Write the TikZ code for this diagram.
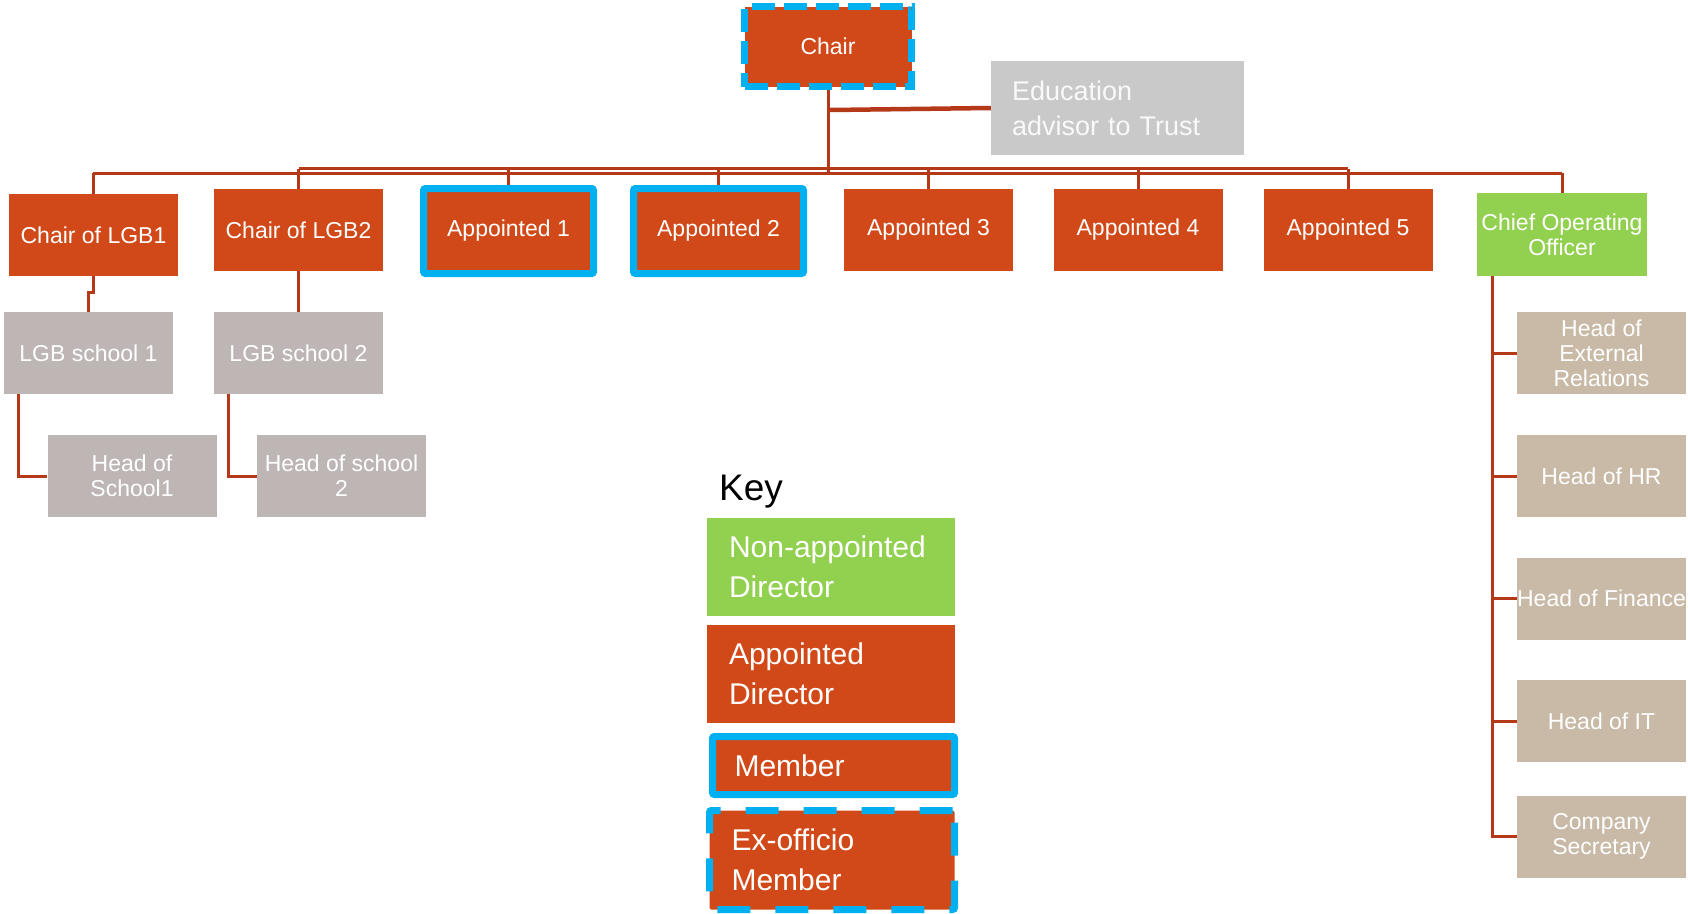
\documentclass[tikz,border=0pt]{standalone}
\usepackage{fontspec}
\setmainfont{Liberation Sans}
\usetikzlibrary{backgrounds}
\definecolor{orng}{RGB}{209,73,25}
\definecolor{cyanb}{RGB}{0,176,240}
\definecolor{grn}{RGB}{146,208,80}
\definecolor{lgbgray}{RGB}{190,181,181}
\definecolor{edugray}{RGB}{201,201,201}
\definecolor{tanbox}{RGB}{200,186,166}
\definecolor{conncol}{RGB}{181,57,24}
\tikzset{
  box/.style={rectangle, inner sep=0pt, align=center, text=white,
    font=\fontsize{23}{25}\selectfont},
  orangebox/.style={box, fill=orng, minimum width=169pt, minimum height=82pt},
  memberbox/.style={box, fill=orng, draw=cyanb, line width=7pt, rounded corners=2pt},
  exbox/.style={box, fill=orng, draw=cyanb, line width=7pt, dash pattern=on 23pt off 9pt},
  greenbox/.style={box, fill=grn, minimum width=170pt, minimum height=83pt},
  graybox/.style={box, fill=lgbgray, minimum width=169pt, minimum height=82pt},
  tbox/.style={box, fill=tanbox, minimum width=169pt, minimum height=82pt},
  keytext/.style={font=\fontsize{30}{40}\selectfont, align=left},
  conn/.style={draw=conncol, line width=3pt},
}
\begin{document}
\begin{tikzpicture}[x=1pt,y=-1pt]
\useasboundingbox (0,0) rectangle (1688,913);
% top
\node[exbox, minimum width=167pt, minimum height=80pt] (chair) at (828,46.5) {Chair};
\node[box, fill=edugray, minimum width=253pt, minimum height=94pt,
  text width=211pt, align=left, text=white!95!gray,
  font=\fontsize{27}{35}\selectfont] (edu) at (1117.5,108) {Education\\advisor to Trust};
% second row
\node[orangebox] (lgb1) at (93.5,235) {Chair of LGB1};
\node[orangebox] (lgb2) at (298.5,230) {Chair of LGB2};
\node[memberbox, minimum width=170pt, minimum height=85pt] (app1) at (508.5,231) {Appointed 1};
\node[memberbox, minimum width=170pt, minimum height=85pt] (app2) at (718.5,231) {Appointed 2};
\node[orangebox] (app3) at (928.5,230) {Appointed 3};
\node[orangebox] (app4) at (1138,230) {Appointed 4};
\node[orangebox] (app5) at (1348,230) {Appointed 5};
\node[greenbox] (coo) at (1562,234.5) {Chief Operating\\Officer};
% schools
\node[graybox] (sch1) at (88.5,353) {LGB school 1};
\node[graybox] (sch2) at (298.5,353) {LGB school 2};
\node[graybox] (hd1) at (132,476) {Head of\\School1};
\node[graybox] (hd2) at (341.5,476) {Head of school\\2};
% right column
\node[tbox] (h1) at (1601.5,353) {Head of\\External\\Relations};
\node[tbox] (h2) at (1601.5,476) {Head of HR};
\node[tbox] (h3) at (1601.5,598.5) {Head of Finance};
\node[tbox] (h4) at (1601.5,721) {Head of IT};
\node[tbox] (h5) at (1601.5,836.5) {Company\\Secretary};
% key
\node[anchor=base west, font=\fontsize{37}{40}\selectfont, inner sep=0pt] (key) at (719,500) {Key};
\node[box, keytext, fill=grn, minimum width=248pt, minimum height=98pt, text width=204pt] (k1) at (831,567) {Non-appointed\\Director};
\node[box, keytext, fill=orng, minimum width=248pt, minimum height=98pt, text width=204pt] (k2) at (831,674) {Appointed\\Director};
\node[memberbox, keytext, minimum width=242pt, minimum height=58pt, text width=198pt] (k3) at (833.5,765.5) {Member};
\node[exbox, keytext, minimum width=245pt, minimum height=99pt, text width=201pt,
  dash pattern=on 33pt off 25pt, rounded corners=2pt] (k4) at (832,860) {Ex-officio\\Member};
% connectors
\begin{scope}[on background layer]
\coordinate (busL) at (93,173);
\coordinate (busR) at (1562,173);
\coordinate (bus2L) at (298.5,168.5);
\coordinate (bus2R) at (1348,168.5);
\draw[conn] (busL) -- (busR);
\draw[conn] (bus2L) -- (bus2R);
\draw[conn] (chair.south) -- (chair.south |- busL);
\coordinate (ej) at (830,110);
\draw[conn, line width=4.5pt] (ej) -- (edu.west);
\draw[conn] (lgb1.north) -- (lgb1.north |- busL);
\draw[conn] (coo.north) -- (coo.north |- busL);
\foreach \n in {lgb2,app1,app2,app3,app4,app5}{
  \draw[conn] (\n.north) -- (\n.north |- bus2L);
}
\draw[conn] (lgb1.south) -- ++(0,16) -| (sch1.north);
\draw[conn] (lgb2.south) -- (sch2.north);
\coordinate (t1) at ([xshift=15pt]sch1.south west);
\coordinate (t2) at ([xshift=15pt]sch2.south west);
\draw[conn] (t1) |- (hd1.west);
\draw[conn] (t2) |- (hd2.west);
\coordinate (ct) at ([xshift=16pt]coo.south west);
\foreach \h in {h1,h2,h3,h4,h5}{
  \draw[conn] (ct) |- (\h.west);
}
\end{scope}
\end{tikzpicture}
\end{document}
